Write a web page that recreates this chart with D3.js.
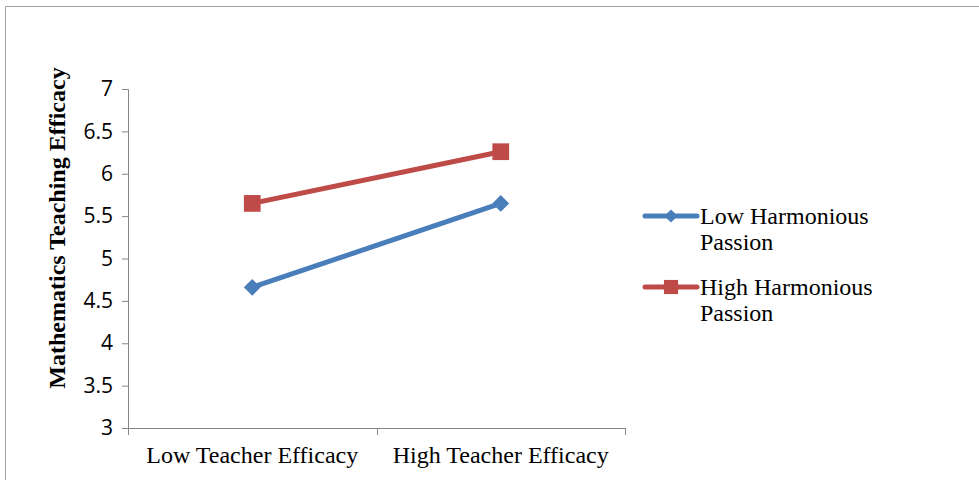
<!DOCTYPE html>
<html><head><meta charset="utf-8">
<script src="https://cdn.jsdelivr.net/npm/d3@7"></script>
<style>body{margin:0;background:#fff}svg{display:block}</style>
</head><body>
<svg id="c" width="979" height="480"></svg>
<script>
const categories = ["Low Teacher Efficacy", "High Teacher Efficacy"];
const seriesNames = ["Low Harmonious Passion", "High Harmonious Passion"];
const lowHP = [4.66, 5.65];
const highHP = [5.65, 6.26];
const yTicks = [3, 3.5, 4, 4.5, 5, 5.5, 6, 6.5, 7];
const yTitle = "Mathematics Teaching Efficacy";

const svg = d3.select("#c");
// outer frame
svg.append("path").attr("d","M5.5,480 V6.5 H979").attr("fill","none").attr("stroke","#a0a0a0").attr("stroke-width",1);

const x0 = 128, x1 = 625, yTop = 89, yBot = 428;
const x = d3.scaleBand().domain(categories).range([x0, x1]);
const y = d3.scaleLinear().domain([3, 7]).range([yBot, yTop]);
const axisColor = "#868686";

// y axis
const ya = svg.append("g").attr("transform",`translate(${x0},0)`)
  .call(d3.axisLeft(y).tickValues(yTicks).tickSize(6).tickPadding(9).tickFormat(d3.format("")));
ya.select(".domain").attr("stroke",axisColor).attr("d",`M-6,${yTop}.5H0.5V${yBot}`);
ya.selectAll(".tick line").attr("stroke",axisColor);
ya.selectAll(".tick text").attr("font-family","'Open Sans', sans-serif").attr("font-size",21).attr("fill","#000");

// x axis
const xa = svg.append("g").attr("transform",`translate(0,${yBot})`);
xa.append("line").attr("x1",x0).attr("x2",x1).attr("y1",0.5).attr("y2",0.5).attr("stroke",axisColor);
const bounds = [x0, ...categories.map(c => x(c) + x.bandwidth())];
xa.selectAll("line.t").data(bounds).join("line").attr("class","t")
  .attr("x1",d=>Math.round(d)+0.5).attr("x2",d=>Math.round(d)+0.5).attr("y1",0).attr("y2",7).attr("stroke",axisColor);
xa.selectAll("text").data(categories).join("text")
  .attr("x",d=>x(d)+x.bandwidth()/2).attr("y",35).attr("text-anchor","middle")
  .attr("font-family","'Liberation Serif', serif").attr("font-size",24).attr("fill","#000").text(d=>d);

// y title
svg.append("text").attr("transform",`translate(65,228) rotate(-90)`).attr("text-anchor","middle")
  .attr("font-family","'Liberation Serif', serif").attr("font-weight","bold").attr("font-size",24).text(yTitle);

const cx = c => x(c) + x.bandwidth()/2;
const colors = ["#4a7ebb", "#be4b48"];
const data = [lowHP, highHP];
const line = d3.line().x((d,i)=>cx(categories[i])).y(d=>y(d));
data.forEach((s, k) => {
  svg.append("path").datum(s).attr("d",line).attr("fill","none").attr("stroke",colors[k]).attr("stroke-width",5).attr("stroke-linecap","round");
});
const sym = [d3.symbol().type(d3.symbolDiamond2).size(180), d3.symbol().type(d3.symbolSquare).size(280)];
data.forEach((s,k)=>{
  svg.selectAll(null).data(s).join("path")
    .attr("transform",(d,i)=>`translate(${cx(categories[i])},${y(d)})`)
    .attr("d",sym[k]()).attr("fill",colors[k]);
});

// legend
const legY = [216, 287];
seriesNames.forEach((n,k)=>{
  const g = svg.append("g");
  g.append("line").attr("x1",645).attr("x2",697).attr("y1",legY[k]).attr("y2",legY[k]).attr("stroke",colors[k]).attr("stroke-width",5).attr("stroke-linecap","round");
  g.append("path").attr("transform",`translate(671,${legY[k]})`).attr("d",d3.symbol().type(k===0?d3.symbolDiamond2:d3.symbolSquare).size(k===0?110:200)()).attr("fill",colors[k]);
  const words = n.split(" ");
  const t = g.append("text").attr("font-family","'Liberation Serif', serif").attr("font-size",24).attr("fill","#000");
  t.append("tspan").attr("x",700).attr("y",legY[k]+8).text(words.slice(0,2).join(" "));
  t.append("tspan").attr("x",700).attr("y",legY[k]+34).text(words.slice(2).join(" "));
});
</script>
</body></html>
